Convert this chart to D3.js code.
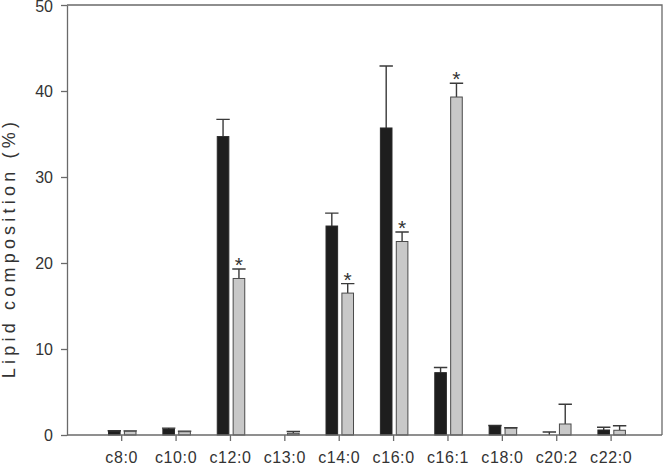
<!DOCTYPE html>
<html>
<head>
<meta charset="utf-8">
<script src="https://cdn.jsdelivr.net/npm/d3@7"></script>
<style>
  body { margin: 0; background: #fff; }
  svg { display: block; font-family: "Liberation Sans", Arial, sans-serif; }
</style>
</head>
<body>
<div class="bar-chart"></div>
<script>
// lipid classes and two groups (black = control, gray = treated)
var categories = ["c8:0", "c10:0", "c12:0", "c13:0", "c14:0", "c16:0", "c16:1", "c18:0", "c20:2", "c22:0"];
var blackValues = [0.45, 0.7, 34.7, 0, 24.3, 35.7, 7.25, 1.05, 0, 0.58];
var blackErrors = [0.05, 0.1, 2.0, 0, 1.5, 7.2, 0.6, 0.05, 0.35, 0.32];
var grayValues = [0.43, 0.38, 18.2, 0.2, 16.5, 22.5, 39.3, 0.78, 1.28, 0.55];
var grayErrors = [0.05, 0.05, 1.1, 0.2, 1.1, 1.1, 1.6, 0.07, 2.3, 0.53];
var graySignificant = [false, false, true, false, true, true, true, false, false, false];
var yTicks = [0, 10, 20, 30, 40, 50];

var width = 666;
var height = 465;
var plot = {left: 67, right: 662, top: 5, bottom: 435};
var axisColor = "#6a6a6a";
var textColor = "#333";

var svg = d3.select(".bar-chart")
            .append("svg")
              .attr("width", width)
              .attr("height", height);

var x0 = d3.scaleBand()
  .domain(categories)
  .range([94.5, 638.3]);

var x1 = d3.scaleBand()
  .domain(["black", "gray"])
  .range([x0.bandwidth() / 2 - 13.2, x0.bandwidth() / 2 + 14.3])
  .paddingInner(0.27);

var y = d3.scaleLinear()
  .domain([0, 50])
  .range([plot.bottom, plot.top]);

// flatten into one record per bar
var bars = [];
categories.forEach(function(c, i) {
  bars.push({cat: c, series: "black", value: blackValues[i], err: blackErrors[i], sig: false});
  bars.push({cat: c, series: "gray", value: grayValues[i], err: grayErrors[i], sig: graySignificant[i]});
});

// frame (top and right)
svg.append("path")
  .attr("d", "M" + plot.left + "," + plot.top + "H" + plot.right + "V" + plot.bottom)
  .attr("fill", "none")
  .attr("stroke", axisColor)
  .attr("stroke-width", 1.3);

// error bars (upper only), drawn before the bars
var capHalf = 6.7;
var errG = svg.append("g");
errG.selectAll("path")
  .data(bars.filter(function(d) { return d.err > 0; }))
  .enter()
  .append("path")
    .attr("d", function(d) {
      var cx = x0(d.cat) + x1(d.series) + x1.bandwidth() / 2;
      var top = y(d.value + d.err);
      return "M" + cx + "," + y(d.value) + "V" + top +
             "M" + (cx - capHalf) + "," + top + "H" + (cx + capHalf);
    })
    .attr("fill", "none")
    .attr("stroke", "#3a3a3a")
    .attr("stroke-width", 1.4);

// bars
svg.append("g")
  .selectAll("rect")
  .data(bars.filter(function(d) { return d.value > 0; }))
  .enter()
  .append("rect")
    .attr("x", function(d) { return x0(d.cat) + x1(d.series); })
    .attr("y", function(d) { return y(d.value); })
    .attr("width", x1.bandwidth())
    .attr("height", function(d) { return y(0) - y(d.value); })
    .attr("fill", function(d) { return d.series === "black" ? "#1e1e1e" : "#c8c8c8"; })
    .attr("stroke", function(d) { return d.series === "black" ? "#2a2a2a" : "#4a4a4a"; })
    .attr("stroke-width", 1);

// significance marks
svg.append("g")
  .selectAll("text")
  .data(bars.filter(function(d) { return d.sig; }))
  .enter()
  .append("text")
    .text("*")
    .attr("x", function(d) { return x0(d.cat) + x1(d.series) + x1.bandwidth() / 2; })
    .attr("y", function(d) { return y(d.value + d.err) + 3; })
    .attr("text-anchor", "middle")
    .attr("font-size", "21px")
    .attr("fill", textColor);

// y axis
var yAxis = svg.append("g")
  .attr("transform", "translate(" + plot.left + ",0)")
  .call(d3.axisLeft(y).tickValues(yTicks).tickSize(6).tickSizeOuter(0).tickPadding(8));

// keep the top label inside the picture
yAxis.selectAll(".tick text")
  .filter(function(d) { return d === 50; })
  .attr("y", 1);

// x axis
var xAxis = svg.append("g")
  .attr("transform", "translate(0," + plot.bottom + ")")
  .call(d3.axisBottom(x0).tickSize(6).tickSizeOuter(0).tickPadding(10.8));

xAxis.select(".domain").attr("d", "M" + plot.left + ",0H" + plot.right);

[yAxis, xAxis].forEach(function(g) {
  g.selectAll(".domain, line").attr("stroke", axisColor).attr("stroke-width", 1.3);
  g.selectAll("text")
    .attr("fill", textColor)
    .attr("font-size", "16px")
    .attr("font-family", "Liberation Sans, Arial, sans-serif");
});
xAxis.selectAll("text").attr("letter-spacing", "0.6px");

// y axis title
svg.append("text")
  .text("Lipid composition (%)")
  .attr("transform", "translate(15,248) rotate(-90)")
  .attr("text-anchor", "middle")
  .attr("font-size", "18px")
  .attr("letter-spacing", "4.2px")
  .attr("fill", textColor);
</script>
</body>
</html>
